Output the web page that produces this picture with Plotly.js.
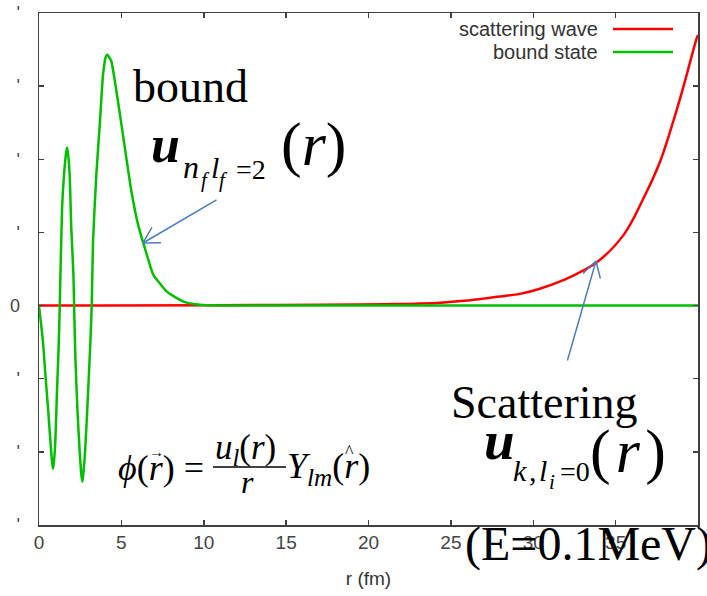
<!DOCTYPE html>
<html>
<head>
<meta charset="utf-8">
<script src="https://cdn.plot.ly/plotly-3.0.1.min.js"></script>
<style>html,body{margin:0;padding:0;background:#fff}#plot{width:707px;height:596px}</style>
</head>
<body>
<div id="plot"></div>
<script>
// ---- data ----
const boundR = [0, 0.1, 0.24, 0.39, 0.55, 0.71, 0.8, 0.85, 0.9, 0.99, 1.09, 1.19, 1.26, 1.40, 1.52, 1.64, 1.70, 1.76, 1.86, 1.96, 2.09, 2.13, 2.21, 2.33, 2.47, 2.58, 2.63, 2.68, 2.81, 2.98, 3.12, 3.20, 3.28, 3.48, 3.69, 3.89, 4.05, 4.15, 4.25, 4.39, 4.70, 5.00, 5.30, 5.61, 6.01, 6.42, 6.94, 7.35, 7.76, 8.77, 9.78, 11.0, 40.0];
const boundU = [0, -0.2, -0.49, -0.95, -1.41, -1.91, -2.15, -2.23, -2.15, -1.86, -1.18, -0.58, 0, 1.33, 1.79, 2.08, 2.16, 2.08, 1.79, 1.06, 0.42, 0, -0.72, -1.41, -2.0, -2.33, -2.41, -2.33, -1.95, -1.18, -0.49, 0, 0.88, 1.79, 2.48, 3.16, 3.40, 3.43, 3.40, 3.34, 2.93, 2.48, 2.02, 1.56, 1.11, 0.79, 0.42, 0.30, 0.19, 0.055, 0.01, 0, 0];
const scatR = [0, 21.6, 24.4, 25.8, 27.8, 29.2, 30.4, 31.85, 33.9, 35.5, 36.7, 37.7, 38.5, 39.1, 39.9, 40.0];
const scatU = [0, 0.02, 0.04, 0.065, 0.12, 0.16, 0.23, 0.35, 0.60, 0.97, 1.47, 1.97, 2.52, 2.98, 3.64, 3.70];
const seriesNames = ['scattering wave', 'bound state'];
const xTickVals = [0, 5, 10, 15, 20, 25, 30, 35, 40];
const yTickVals = [-3, -2, -1, 0, 1, 2, 3, 4];
const yTickText = ["'", "'", "'", "0", "'", "'", "'", "'"];

// ---- layout helpers ----
const W = 707, H = 596, ML = 39, MR = 9, MT = 13, MB = 71;
const PW = W - ML - MR, PH = H - MT - MB;
const px = x => (x - ML) / PW;
const py = y => (H - MB - y) / PH;
const SERIF = "'Liberation Serif', 'Times New Roman', 'DejaVu Serif', serif";
const SANS = "'Liberation Sans', Arial, sans-serif";
const RED = '#ff0000', GREEN = '#00c000', BLUE = '#4a7ebb', AX = '#404040';

function txt(text, x, y, size, opts) {
  return Object.assign({
    text: text, xref: 'paper', yref: 'paper', x: px(x), y: py(y),
    xanchor: 'left', yanchor: 'middle', showarrow: false, borderpad: 0, borderwidth: 0,
    font: {family: SERIF, size: size, color: '#000'}
  }, opts || {});
}
function arrowLine(tx, ty, fx, fy) {
  return {
    text: '', xref: 'paper', yref: 'paper', x: px(tx), y: py(ty),
    ax: fx - tx, ay: fy - ty, showarrow: true, arrowhead: 0,
    arrowwidth: 1.5, arrowcolor: BLUE, standoff: 0, startstandoff: 0
  };
}
// open "V" head: two short strokes from the tip
function arrowArms(tx, ty, fx, fy, len, ang) {
  const dx = fx - tx, dy = fy - ty, n = Math.hypot(dx, dy);
  const ux = dx / n, uy = dy / n, out = [];
  [ang, -ang].forEach(a => {
    const c = Math.cos(a), s = Math.sin(a);
    const ex = tx + len * (c * ux - s * uy), ey = ty + len * (s * ux + c * uy);
    out.push({type: 'line', xref: 'paper', yref: 'paper', x0: px(tx), y0: py(ty), x1: px(ex), y1: py(ey),
              line: {color: BLUE, width: 1.5}});
  });
  return out;
}

const traces = [
  {x: scatR, y: scatU, name: seriesNames[0], type: 'scatter', mode: 'lines',
   line: {color: RED, width: 2.5, shape: 'spline', smoothing: 1}},
  {x: boundR, y: boundU, name: seriesNames[1], type: 'scatter', mode: 'lines',
   line: {color: GREEN, width: 2.5, shape: 'spline', smoothing: 0.6}}
];

const annotations = [
  // legend text
  txt(seriesNames[0], 598, 29, 20, {xanchor: 'right', font: {family: SANS, size: 20, color: '#333'}}),
  txt(seriesNames[1], 598, 52, 20, {xanchor: 'right', font: {family: SANS, size: 20, color: '#333'}}),
  // bound label
  txt('bound', 133, 86, 46),
  txt('<b><i>u</i></b>', 151, 144, 52),
  txt('<i>n</i>', 183, 167, 32),
  txt('<i>f</i>', 201, 180, 21),
  txt('<i>l</i>', 211, 167, 30),
  txt('<i>f</i>', 219, 180, 21),
  txt('=2', 236, 169, 28),
  txt('(<i>r</i>)', 281, 144, 62),
  // scattering label
  txt('Scattering', 451, 402.5, 46),
  txt('<b><i>u</i></b>', 484, 440, 55),
  txt('<i>k</i>', 513, 470, 30),
  txt(',', 529, 470, 30),
  txt('<i>l</i>', 539, 470, 30),
  txt('<i>i</i>', 549, 482, 21),
  txt('=0', 560, 471, 28),
  txt('(\u200A<i>r</i>\u200A)', 590, 451, 62),
  txt('(E=0.1MeV)', 465, 544, 48),
  // phi formula
  txt('<i>\u03d5</i>(<i>r</i>) =', 118, 468, 36),
  txt('\u2192', 149, 452, 15),
  txt('<i>u<sub>l</sub></i>(<i>r</i>)', 215, 449, 35),
  txt('<i>r</i>', 241, 482, 32),
  txt('<i>Y<sub>lm</sub></i>(<i>r</i>)', 287, 468, 36),
  txt('^', 345, 452, 18),
  // arrow shafts
  arrowLine(143, 243, 218, 199),
  arrowLine(596, 261, 567, 362)
];

const shapes = [
  {type: 'line', xref: 'paper', yref: 'paper', x0: px(613), x1: px(673), y0: py(29), y1: py(29), line: {color: RED, width: 2.5}},
  {type: 'line', xref: 'paper', yref: 'paper', x0: px(613), x1: px(673), y0: py(52), y1: py(52), line: {color: GREEN, width: 2.5}},
  {type: 'line', xref: 'paper', yref: 'paper', x0: px(213), x1: px(286), y0: py(467), y1: py(467), line: {color: '#000', width: 1.5}}
].concat(arrowArms(143, 243, 218, 199, 18, Math.PI / 6), arrowArms(596, 261, 567, 362, 18, Math.PI / 6));

const layout = {
  width: W, height: H,
  margin: {l: ML, r: MR, t: MT, b: MB, pad: 0},
  paper_bgcolor: '#fff', plot_bgcolor: '#fff',
  showlegend: false,
  xaxis: {
    range: [0, 40], tickvals: xTickVals, ticks: 'inside', ticklen: 5, tickwidth: 1.5, tickcolor: AX,
    showline: true, linecolor: AX, linewidth: 1.5, mirror: 'ticks',
    showgrid: false, zeroline: false,
    tickfont: {family: SANS, size: 19, color: '#444'},
    title: {text: 'r (fm)', font: {family: SANS, size: 19, color: '#333'}, standoff: 19}
  },
  yaxis: {
    range: [-3, 4], tickvals: yTickVals, ticktext: yTickText, ticks: 'inside', ticklen: 5, tickwidth: 1.5, tickcolor: AX,
    showline: true, linecolor: AX, linewidth: 1.5, mirror: 'ticks',
    showgrid: false, zeroline: false, ticklabelstandoff: 14,
    tickfont: {family: SANS, size: 18, color: '#444'}
  },
  annotations: annotations,
  shapes: shapes
};

Plotly.newPlot('plot', traces, layout, {staticPlot: true, displayModeBar: false});
</script>
</body>
</html>
